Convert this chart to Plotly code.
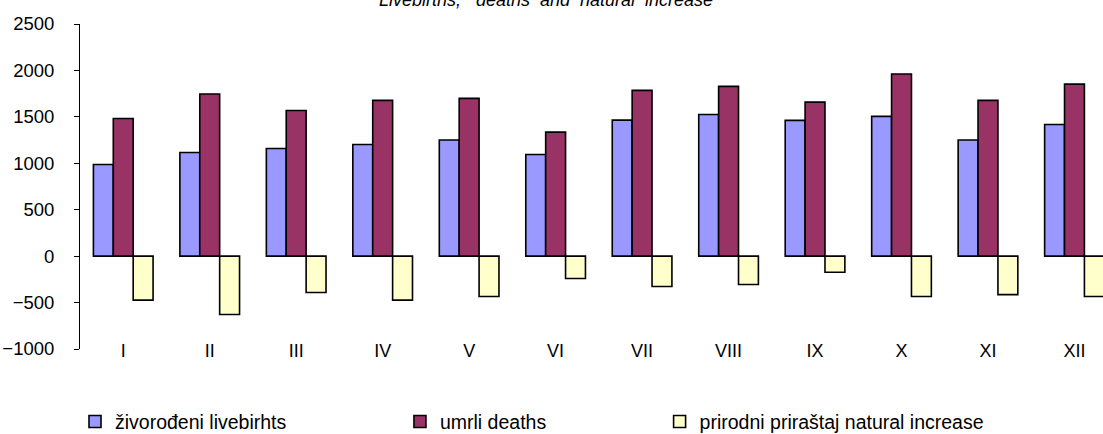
import plotly.graph_objects as go

months = ["I", "II", "III", "IV", "V", "VI", "VII", "VIII", "IX", "X", "XI", "XII"]
livebirths = [987, 1116, 1160, 1203, 1250, 1095, 1465, 1526, 1462, 1505, 1250, 1418]
deaths = [1483, 1746, 1569, 1677, 1699, 1336, 1785, 1828, 1659, 1961, 1677, 1853]
natural_increase = [-474, -629, -392, -474, -435, -241, -327, -306, -173, -435, -414, -435]

names = ["živorođeni livebirhts", "umrli deaths", "prirodni priraštaj natural increase"]
colors = ["#9999ff", "#993366", "#ffffcc"]
series = [livebirths, deaths, natural_increase]
legends = ["legend", "legend2", "legend3"]

FONT = "Liberation Sans, Arial, sans-serif"

fig = go.Figure()
for name, vals, col, lg in zip(names, series, colors, legends):
    fig.add_trace(go.Bar(
        x=list(range(len(months))), y=vals, name=name,
        marker=dict(color=col, line=dict(color="black", width=1.6)),
        legend=lg,
    ))

legend_common = dict(
    orientation="h", xref="container", yref="container", y=0.028, yanchor="middle",
    font=dict(family=FONT, size=19.5, color="black"), bgcolor="rgba(0,0,0,0)",
    itemwidth=30,
)

fig.update_layout(
    width=1103, height=434,
    margin=dict(l=80, r=0, t=24, b=85),
    paper_bgcolor="white", plot_bgcolor="white",
    barmode="group", bargap=0.31, bargroupgap=0,
    font=dict(family=FONT, size=18, color="black"),
    title=dict(
        text="<i>Livebirths,   deaths  and  natural  increase</i>",
        xref="container", x=0.495, xanchor="center",
        yref="container", y=1.0, yanchor="middle",
        font=dict(family=FONT, size=18, color="black"),
    ),
    xaxis=dict(
        range=[-0.5, 11.33], tickmode="array",
        tickvals=list(range(len(months))), ticktext=months,
        showline=False, ticks="", showgrid=False, zeroline=False,
        ticklabelstandoff=-11,
        tickfont=dict(family=FONT, size=18, color="black"),
    ),
    xaxis2=dict(
        overlaying="x", anchor="free", position=1000 / 3500,
        range=[-0.5, 11.33], tickmode="array",
        tickvals=list(range(len(months))), showticklabels=False,
        showline=True, linecolor="#b8cce4", linewidth=2,
        ticks="outside", ticklen=3, tickcolor="#b8cce4", tickwidth=1,
        showgrid=False, zeroline=False,
    ),
    yaxis=dict(
        range=[-1000, 2500], tickmode="array",
        tickvals=[-1000, -500, 0, 500, 1000, 1500, 2000, 2500],
        showline=True, linecolor="black", linewidth=1,
        ticks="outside", ticklen=5, tickcolor="black",
        showgrid=False, zeroline=False,
        ticklabelstandoff=16,
        tickfont=dict(family=FONT, size=18.5, color="black"),
    ),
    legend=dict(legend_common, x=0.068),
    legend2=dict(legend_common, x=0.3626),
    legend3=dict(legend_common, x=0.598),
    showlegend=True,
)

fig.write_html(
    "out.html",
    config={"displayModeBar": False},
    post_script="document.body.style.margin='0';document.body.style.overflow='hidden';",
)
